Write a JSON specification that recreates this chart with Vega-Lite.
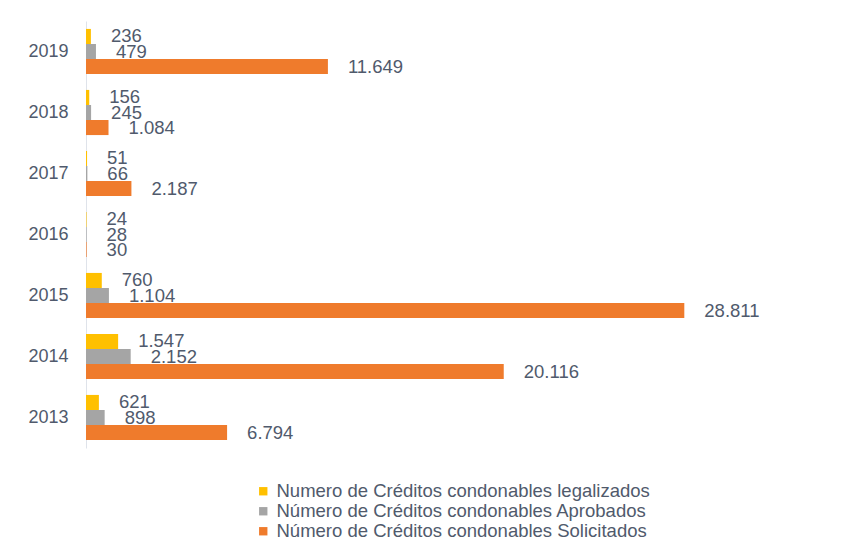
{
  "$schema": "https://vega.github.io/schema/vega-lite/v6.json",
  "autosize": "none",
  "width": 623,
  "height": 427,
  "padding": {"left": 86, "top": 21, "right": 156, "bottom": 102},
  "background": "white",
  "config": {
    "view": {"stroke": null},
    "font": "Liberation Sans",
    "locale": {"number": {"decimal": ",", "thousands": ".", "grouping": [3], "currency": ["$", ""]}}
  },
  "data": {
    "values": [
      {"year": "2019", "serie": "Numero de Créditos condonables legalizados", "value": 236},
      {"year": "2019", "serie": "Número de Créditos condonables Aprobados", "value": 479},
      {"year": "2019", "serie": "Número de Créditos condonables Solicitados", "value": 11649},
      {"year": "2018", "serie": "Numero de Créditos condonables legalizados", "value": 156},
      {"year": "2018", "serie": "Número de Créditos condonables Aprobados", "value": 245},
      {"year": "2018", "serie": "Número de Créditos condonables Solicitados", "value": 1084},
      {"year": "2017", "serie": "Numero de Créditos condonables legalizados", "value": 51},
      {"year": "2017", "serie": "Número de Créditos condonables Aprobados", "value": 66},
      {"year": "2017", "serie": "Número de Créditos condonables Solicitados", "value": 2187},
      {"year": "2016", "serie": "Numero de Créditos condonables legalizados", "value": 24},
      {"year": "2016", "serie": "Número de Créditos condonables Aprobados", "value": 28},
      {"year": "2016", "serie": "Número de Créditos condonables Solicitados", "value": 30},
      {"year": "2015", "serie": "Numero de Créditos condonables legalizados", "value": 760},
      {"year": "2015", "serie": "Número de Créditos condonables Aprobados", "value": 1104},
      {"year": "2015", "serie": "Número de Créditos condonables Solicitados", "value": 28811},
      {"year": "2014", "serie": "Numero de Créditos condonables legalizados", "value": 1547},
      {"year": "2014", "serie": "Número de Créditos condonables Aprobados", "value": 2152},
      {"year": "2014", "serie": "Número de Créditos condonables Solicitados", "value": 20116},
      {"year": "2013", "serie": "Numero de Créditos condonables legalizados", "value": 621},
      {"year": "2013", "serie": "Número de Créditos condonables Aprobados", "value": 898},
      {"year": "2013", "serie": "Número de Créditos condonables Solicitados", "value": 6794}
    ]
  },
  "encoding": {
    "y": {
      "field": "year", "type": "nominal", "sort": "descending",
      "scale": {"paddingInner": 0.26, "paddingOuter": 0.13},
      "axis": {"title": null, "ticks": false, "labelPadding": 18, "labelFontSize": 18, "labelColor": "#505a6c", "domainColor": "#dfe3ea", "domainWidth": 1}
    },
    "yOffset": {
      "field": "serie", "type": "nominal",
      "sort": ["Numero de Créditos condonables legalizados", "Número de Créditos condonables Aprobados", "Número de Créditos condonables Solicitados"]
    },
    "x": {
      "field": "value", "type": "quantitative",
      "scale": {"domain": [0, 30000], "nice": false},
      "axis": null
    }
  },
  "layer": [
    {
      "mark": {"type": "bar"},
      "encoding": {
        "color": {
          "field": "serie", "type": "nominal",
          "scale": {
            "domain": ["Numero de Créditos condonables legalizados", "Número de Créditos condonables Aprobados", "Número de Créditos condonables Solicitados"],
            "range": ["#FFC000", "#A5A5A5", "#EF7B2C"]
          },
          "legend": {
            "title": null, "orient": "none", "legendX": 168, "legendY": 461,
            "symbolType": "square", "symbolSize": 70, "labelFontSize": 18.5, "labelColor": "#505a6c",
            "rowPadding": 1, "labelOffset": 4, "symbolStrokeWidth": 0, "labelLimit": 0
          }
        }
      }
    },
    {
      "mark": {"type": "text", "align": "left", "baseline": "middle", "dx": 20, "fontSize": 18.5, "color": "#505a6c"},
      "encoding": {
        "text": {"field": "value", "type": "quantitative", "format": ",d"}
      }
    }
  ]
}
